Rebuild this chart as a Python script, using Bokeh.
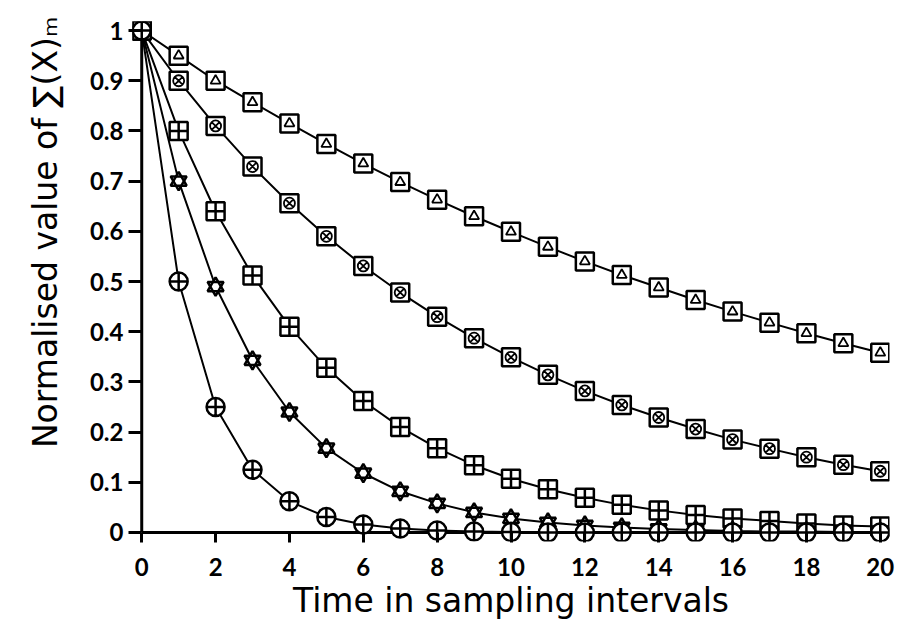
from bokeh.plotting import figure
from bokeh.models import Range1d, FixedTicker, Title
from bokeh.embed import file_html
from bokeh.resources import INLINE

t = list(range(21))
s095 = [1.0, 0.95, 0.90, 0.857, 0.815, 0.774, 0.735, 0.698, 0.663, 0.630, 0.599,
        0.569, 0.540, 0.513, 0.488, 0.463, 0.440, 0.418, 0.397, 0.377, 0.358]
s090 = [1.0, 0.90, 0.81, 0.729, 0.656, 0.590, 0.531, 0.478, 0.430, 0.387, 0.349,
        0.314, 0.282, 0.254, 0.229, 0.206, 0.185, 0.167, 0.150, 0.135, 0.122]
s080 = [1.0, 0.80, 0.64, 0.512, 0.410, 0.328, 0.262, 0.210, 0.168, 0.134, 0.107,
        0.086, 0.069, 0.055, 0.044, 0.035, 0.028, 0.023, 0.018, 0.014, 0.012]
s070 = [1.0, 0.70, 0.49, 0.343, 0.240, 0.168, 0.118, 0.082, 0.058, 0.040, 0.028,
        0.020, 0.014, 0.010, 0.007, 0.005, 0.003, 0.002, 0.002, 0.001, 0.001]
s050 = [1.0, 0.50, 0.25, 0.125, 0.062, 0.031, 0.016, 0.008, 0.004, 0.002, 0.001,
        0.0, 0.0, 0.0, 0.0, 0.0, 0.0, 0.0, 0.0, 0.0, 0.0]

x_ticks = [0, 2, 4, 6, 8, 10, 12, 14, 16, 18, 20]
y_ticks = [0, 0.1, 0.2, 0.3, 0.4, 0.5, 0.6, 0.7, 0.8, 0.9, 1.0]
y_labels = {0: "0", 0.1: "0.1", 0.2: "0.2", 0.3: "0.3", 0.4: "0.4", 0.5: "0.5",
            0.6: "0.6", 0.7: "0.7", 0.8: "0.8", 0.9: "0.9", 1.0: "1"}
x_title = "Time in sampling intervals"
y_title = "Normalised value of \u2211(X)\u2098"

p = figure(width=899, height=624, output_backend="svg", toolbar_location=None,
           x_range=Range1d(-0.25, 20.25), y_range=Range1d(-0.018, 1.018),
           min_border_left=132, min_border_right=10, min_border_top=21,
           min_border_bottom=83)
p.outline_line_color = None
p.grid.visible = False
p.background_fill_color = "white"

K = "black"
MS = 18
MW = 2.5
LW = 2

# axis lines at the data origin
p.line([x_ticks[0], x_ticks[0]], [y_ticks[0], y_ticks[-1]], line_color=K, line_width=3)
p.line([x_ticks[0], x_ticks[-1]], [y_ticks[0], y_ticks[0]], line_color=K, line_width=3)

for s in (s095, s090, s080, s070, s050):
    p.line(t, s, line_color=K, line_width=LW)

p.scatter(t, s095, marker="square", size=MS, fill_color="white", line_color=K, line_width=MW)
p.scatter(t, s095, marker="triangle", size=10, fill_color="white", line_color=K, line_width=1.8)
p.scatter(t, s090, marker="square", size=MS, fill_color="white", line_color=K, line_width=MW)
p.scatter(t, s090, marker="circle_x", size=11, fill_color="white", line_color=K, line_width=1.8)
p.scatter(t, s080, marker="square_cross", size=MS, fill_color="white", line_color=K, line_width=MW)
p.scatter(t, s070, marker="triangle", size=16, fill_color="white", line_color=K, line_width=MW)
p.scatter(t, s070, marker="inverted_triangle", size=16, fill_color=None, line_color=K, line_width=MW)
p.scatter(t, s050, marker="circle_cross", size=MS, fill_color="white", line_color=K, line_width=MW)

FONT = "Lato"
for ax in (p.xaxis[0], p.yaxis[0]):
    ax.axis_line_color = None
    ax.major_tick_line_width = 3
    ax.major_tick_line_color = K
    ax.minor_tick_line_color = None
    ax.major_tick_in = 9
    ax.major_label_text_font = FONT
    ax.major_label_text_font_style = "bold"
    ax.major_label_text_font_size = "24px"
    ax.major_label_text_color = K

p.xaxis.major_tick_out = 1
p.yaxis.major_tick_out = 4
p.xaxis.ticker = FixedTicker(ticks=x_ticks)
p.yaxis.ticker = FixedTicker(ticks=y_ticks)
p.yaxis.major_label_overrides = y_labels
p.xaxis.major_label_standoff = 15
p.yaxis.major_label_standoff = 5

p.xaxis.axis_label = x_title
p.xaxis.axis_label_text_font = "DejaVu Sans"
p.xaxis.axis_label_text_font_style = "normal"
p.xaxis.axis_label_text_font_size = "33px"
p.xaxis.axis_label_text_color = K
p.xaxis.axis_label_standoff = 2

yt = Title(text=y_title, align="right", offset=-5,
           text_font="DejaVu Sans", text_font_style="normal",
           text_font_size="33px", text_color=K)
if "standoff" in Title.properties():
    yt.standoff = 44
p.add_layout(yt, "left")

open("out.html", "w").write(file_html(p, INLINE))
